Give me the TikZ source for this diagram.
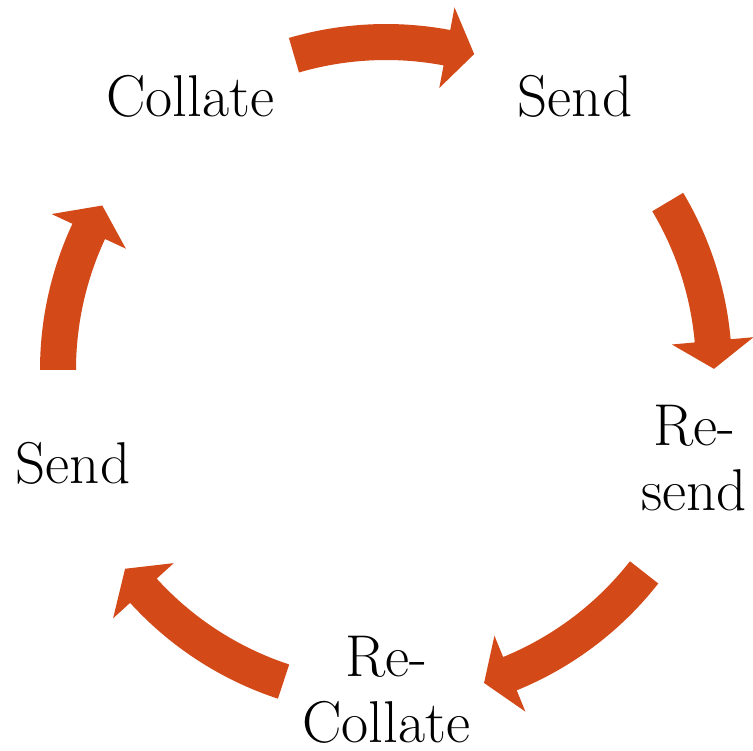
\documentclass[tikz,border=0pt]{standalone}
\usetikzlibrary{calc}
\definecolor{cycleorange}{RGB}{211,73,24}

\begin{document}
\begin{tikzpicture}[x=1pt, y=1pt,
  every node/.style={inner sep=0pt, align=center,
                     font=\fontsize{59}{66}\selectfont}]
\useasboundingbox (0,0) rectangle (753,-751);
\coordinate (ctr) at (386,-370);

% block arrows round the cycle: tail / head base / tip angle
\foreach \ta/\hb/\tp in {106.3/79.3/74.4, 30.8/5.1/0.2, -38.1/-67.8/-72.6,
                         -108.2/-137.7/-142.7, 180/155/149.9}
  \fill[cycleorange] ($(ctr)+(\ta:346pt)$)
      arc[start angle=\ta, end angle=\hb, radius=346pt]
      -- ($(ctr)+(\hb:369pt)$) -- ($(ctr)+(\tp:328pt)$) -- ($(ctr)+(\hb:287pt)$)
      -- ($(ctr)+(\hb:310pt)$)
      arc[start angle=\hb, end angle=\ta, radius=310pt] -- cycle;

\node[anchor=base] (collate) at (190,-117) {Collate};
\node[anchor=base] (send) at (575,-117) {Send};
\node[anchor=base] (resend) at (694,-511) {Re-\\send};
\node[anchor=base] (recollate) at (386,-742) {Re-\\Collate};
\node[anchor=base] (sendleft) at (73,-483) {Send};

\end{tikzpicture}
\end{document}
